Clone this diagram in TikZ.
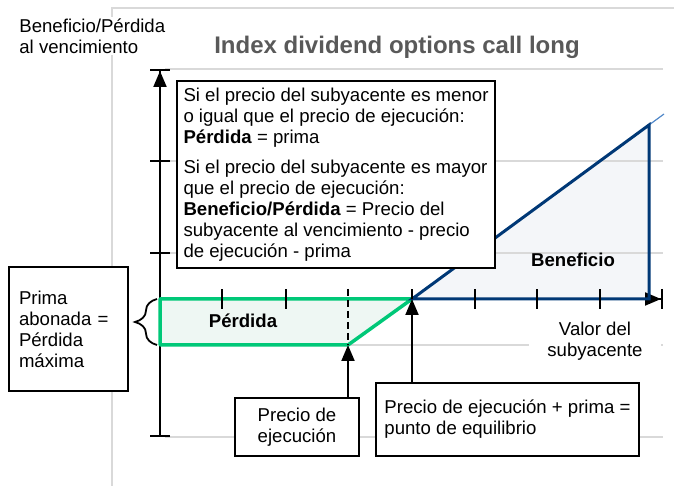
\documentclass[tikz,border=0pt]{standalone}
\usepackage{fontspec}
\setmainfont{Liberation Sans}
\usetikzlibrary{arrows.meta, decorations.pathreplacing}
\definecolor{gridgray}{RGB}{217,217,217}
\definecolor{titlegray}{RGB}{89,89,89}
\definecolor{lossgreen}{RGB}{0,200,120}
\definecolor{lossfill}{RGB}{238,247,243}
\definecolor{gainblue}{RGB}{0,56,118}
\definecolor{gainfill}{RGB}{244,246,249}
\definecolor{trendblue}{RGB}{80,135,200}

\begin{document}
\begin{tikzpicture}[x=0.5pt, y=0.5pt,
	every node/.style={font=\fontsize{9.3}{10.5}\selectfont},
	gridline/.style={gridgray, line width=0.75pt},
	axistick/.style={black, line width=1pt},
	textbox/.style={draw, line width=1pt, fill=white},
	pointer/.style={-{Triangle[width=6.5pt,length=8pt]}, line width=1pt}]
	\useasboundingbox (0,0) rectangle (674,486);

	\draw[gridline] (112,0) -- (112,478) -- (674,478);

	\coordinate(origin) at (160,187);
	\coordinate(floor) at (160,141);
	\coordinate(strike) at (348,141);
	\coordinate(breakeven) at (412,187);
	\coordinate(top) at (649,361);
	\coordinate(corner) at (649,187);
	\coordinate(trendend) at (664,372);

	\fill[lossfill](origin) -- (breakeven) -- (strike) -- (floor) -- cycle;
	\fill[gainfill](breakeven) -- (top) -- (corner) -- cycle;

	\draw[gridline] (165,417) -- (663,417);
	\draw[gridline] (165,325) -- (663,325);
	\draw[gridline] (165,233) -- (663,233);
	\draw[gridline] (165,141) -- (663,141);
	\draw[gridline] (165,49) -- (663,49);

	\draw[line width=1pt, {Bar[width=10pt]}-{Triangle[width=6.5pt,length=8pt]Bar[width=10pt]}] (160,49) -- (160,417);
	\draw[line width=1pt, -{Triangle[width=6.5pt,length=8pt]Bar[width=10pt]}] (origin) -- (663,187);

	\draw[gainblue, line width=0.4pt] (strike) -- (breakeven);
	\draw[lossgreen, line width=1.75pt, line join=round] (origin) -- (breakeven) -- (strike) -- (floor) -- cycle;
	\draw[trendblue, line width=0.6pt] (top) -- (trendend);
	\draw[gainblue, line width=1.5pt] (breakeven) -- (top) -- (corner) -- cycle;

	\draw[line width=1.2pt, dash pattern=on 3.5pt off 2pt] (348,197) -- (strike);

	\draw[axistick] (150,325) -- (170,325);
	\draw[axistick] (150,233) -- (170,233);
	\draw[axistick] (222,177) -- (222,197);
	\draw[axistick] (286,177) -- (286,197);
	\draw[axistick] (412,187) -- (412,197);
	\draw[axistick] (475,177) -- (475,197);
	\draw[axistick] (537,177) -- (537,197);
	\draw[axistick] (600,177) -- (600,197);

	\node[fill=white, align=left, anchor=west, inner sep=1pt](ylabel) at (17,450) {Beneficio/Pérdida\\al vencimiento};
	\node[font=\fontsize{12}{14}\selectfont\bfseries, text=titlegray](title) at (397,439) {Index dividend options call long};

	\node[textbox, align=left, minimum width=158pt, minimum height=93.5pt](rules) at (336,311.5) {Si el precio del subyacente es menor\\o igual que el precio de ejecución:\\\textbf{Pérdida} = prima\\[4.5pt]Si el precio del subyacente es mayor\\que el precio de ejecución:\\\textbf{Beneficio/Pérdida} = Precio del\\subyacente al vencimiento - precio\\de ejecución - prima};

	\node[textbox, align=left, text width=49.5pt, inner xsep=5pt, minimum height=62pt](premium) at (68.5,157) {Prima\\abonada =\\Pérdida\\máxima};
	\node[textbox, align=center, minimum width=62pt, minimum height=29pt](strikebox) at (297,59) {Precio de\\ejecución};
	\node[textbox, align=left, minimum width=131.5pt, minimum height=36.5pt](breakevenbox) at (507.5,66.5) {Precio de ejecución + prima =\\punto de equilibrio};

	\draw[pointer] (strikebox.north -| strike) -- (strike);
	\draw[pointer] (breakevenbox.north -| breakeven) -- (breakeven);

	\draw[decorate, decoration={brace, amplitude=11pt}, line width=0.9pt] (157,141) -- (157,187);

	\node[fill=white, align=center, inner xsep=9pt](underlying) at (595,145) {Valor del\\subyacente};
	\node[font=\fontsize{9.3}{10.5}\selectfont\bfseries](gain) at (573,226) {Beneficio};
	\node[font=\fontsize{9.3}{10.5}\selectfont\bfseries](loss) at (243,165) {Pérdida};
\end{tikzpicture}
\end{document}
